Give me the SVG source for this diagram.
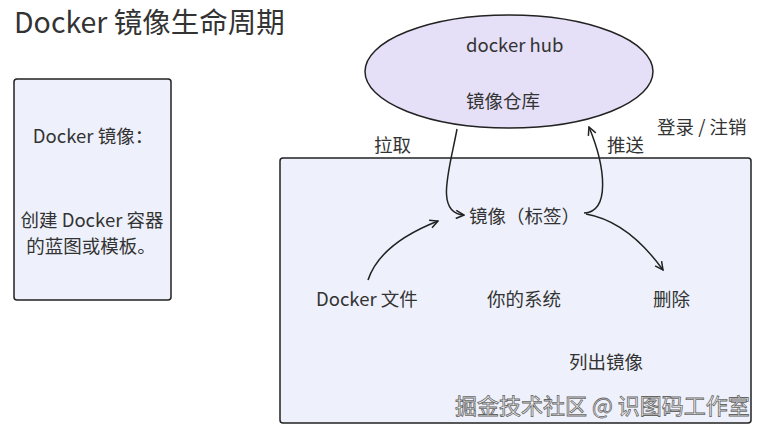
<svg xmlns="http://www.w3.org/2000/svg" width="766" height="435" viewBox="0 0 766 435">
<style>
text{font-family:"Noto Sans CJK SC","Noto Sans",sans-serif;fill:#333;font-size:18.5px}
.box{fill:#eef1fb;stroke:#222;stroke-width:1.5}
.c{fill:none;stroke:#222;stroke-width:1.5}
.wm{fill:#fff;stroke:#666;stroke-width:0.8;font-size:22px}
</style>
<defs>
<marker id="a" viewBox="0 0 10 10" refX="9" refY="5" markerWidth="10" markerHeight="10" markerUnits="userSpaceOnUse" orient="auto">
<path d="M1,1 L9,5 L1,9" fill="none" stroke="#222" stroke-width="1.5"/>
</marker>
</defs>
<rect width="766" height="435" fill="#fff"/>
<text x="14" y="33" style="font-size:28.5px">Docker 镜像生命周期</text>
<g id="legend">
<rect class="box" x="14" y="79" width="157" height="221" rx="3"/>
<text x="93" y="143" text-anchor="middle">Docker 镜像：</text>
<text x="92" y="227" text-anchor="middle">创建 Docker 容器</text>
<text x="91" y="253" text-anchor="middle">的蓝图或模板。</text>
</g>
<g id="system">
<rect class="box" x="280" y="158" width="471" height="265" rx="3"/>
<text x="487" y="306">你的系统</text>
</g>
<g id="hub">
<ellipse cx="509" cy="71.5" rx="144" ry="56.5" fill="#e5e0f7" stroke="#222" stroke-width="1.5"/>
<text x="466" y="52">docker hub</text>
<text x="466" y="108">镜像仓库</text>
</g>
<g id="image"><text x="469" y="223">镜像（标签）</text></g>
<g id="dockerfile"><text x="316" y="306">Docker 文件</text></g>
<g id="delete"><text x="653" y="306">删除</text></g>
<g id="list"><text x="569" y="369">列出镜像</text></g>
<g id="login"><text x="657" y="134">登录 / 注销</text></g>
<g id="connectors">
<path class="c" d="M457,129 C450,168 434,213 464,215" marker-end="url(#a)"/>
<path class="c" d="M584,213 C610,212 606,168 589,127" marker-end="url(#a)"/>
<path class="c" d="M586,214 C620,220 645,245 663,270" marker-end="url(#a)"/>
<path class="c" d="M368,280 C378,250 410,232 438,221" marker-end="url(#a)"/>
<text x="374" y="152">拉取</text>
<text x="607" y="152">推送</text>
</g>
<text class="wm" x="455" y="414">掘金技术社区 @ 识图码工作室</text>
</svg>
